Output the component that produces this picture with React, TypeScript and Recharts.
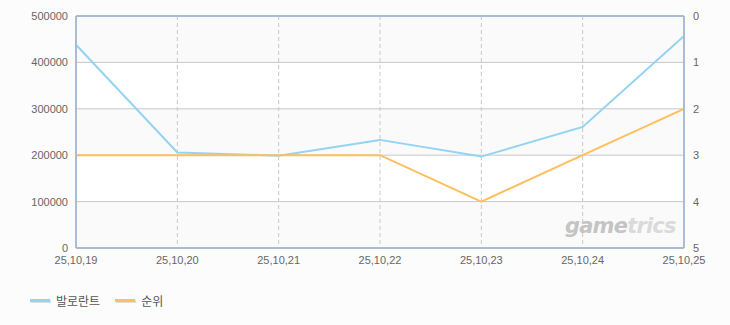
import React from 'react';
import {
    ComposedChart,
    Line,
    XAxis,
    YAxis,
    CartesianGrid,
    ReferenceLine
} from 'recharts';

const dates = ['25,10,19', '25,10,20', '25,10,21', '25,10,22', '25,10,23', '25,10,24', '25,10,25'];
const valorant = [438000, 206000, 199000, 233000, 197000, 261000, 457000];
const rank = [3, 3, 3, 3, 4, 3, 2];
const leftTicks = [0, 100000, 200000, 300000, 400000, 500000];
const rightTicks = [0, 1, 2, 3, 4, 5];

const BLUE = '#94d3f2';
const ORANGE = '#ffbf5e';
const BORDER = '#a9bcd3';
const FONT = '"Liberation Sans", Arial, sans-serif';

const data = dates.map((d, i) => ({ date: d, valorant: valorant[i], rank: rank[i] }));

const tickStyle = { fill: '#666', fontSize: 11, fontFamily: FONT };

export default function App() {
    return (
        <div style={{ position: 'absolute', left: 0, top: 0, width: 730, height: 325, background: '#fcfcfc', fontFamily: FONT }}>
            <ComposedChart width={730} height={325} data={data} margin={{ top: 16, right: 6, left: 6, bottom: 57 }}>
                <CartesianGrid
                    yAxisId="left"
                    vertical={false}
                    stroke="#c8c8c8"
                    horizontalFill={['#fafafa', '#ffffff']}
                />
                <CartesianGrid yAxisId="left" horizontal={false} stroke="#c8c8c8" strokeDasharray="4 3" />
                <XAxis
                    dataKey="date"
                    tick={tickStyle}
                    tickLine={false}
                    axisLine={{ stroke: BORDER, strokeWidth: 2 }}
                    interval={0}
                    height={20}
                    tickMargin={2}
                />
                <YAxis
                    yAxisId="left"
                    domain={[0, 500000]}
                    ticks={leftTicks}
                    tick={tickStyle}
                    tickLine={false}
                    axisLine={{ stroke: BORDER, strokeWidth: 2 }}
                    width={70}
                    tickMargin={2}
                />
                <YAxis
                    yAxisId="right"
                    orientation="right"
                    reversed
                    domain={[0, 5]}
                    ticks={rightTicks}
                    tick={tickStyle}
                    tickLine={false}
                    axisLine={{ stroke: BORDER, strokeWidth: 2 }}
                    width={40}
                    tickMargin={3}
                />
                <ReferenceLine yAxisId="left" y={500000} stroke={BORDER} strokeWidth={2} />
                <Line
                    yAxisId="left"
                    type="linear"
                    dataKey="valorant"
                    stroke={BLUE}
                    strokeWidth={2}
                    dot={false}
                    isAnimationActive={false}
                />
                <Line
                    yAxisId="right"
                    type="linear"
                    dataKey="rank"
                    stroke={ORANGE}
                    strokeWidth={2}
                    dot={false}
                    isAnimationActive={false}
                />
            </ComposedChart>

            {/* watermark */}
            <div style={{ position: 'absolute', left: 565, top: 214, fontSize: 21, fontWeight: 'bold', fontStyle: 'italic', letterSpacing: -0.8, fontFamily: '"DejaVu Sans", sans-serif', color: '#c4c4c4' }}>
                game<span style={{ color: '#dadada' }}>trics</span>
            </div>

            {/* legend */}
            <div style={{ position: 'absolute', left: 30, top: 292, display: 'flex', alignItems: 'center', fontSize: 12, color: '#555', fontFamily: '"Noto Sans CJK KR", sans-serif' }}>
                <span style={{ display: 'inline-block', width: 20, height: 3, background: BLUE, boxShadow: '1px 1px 0 #ddd', marginRight: 6 }} />
                <span>발로란트</span>
                <span style={{ display: 'inline-block', width: 20, height: 3, background: ORANGE, boxShadow: '1px 1px 0 #ddd', marginLeft: 15, marginRight: 6 }} />
                <span>순위</span>
            </div>
        </div>
    );
}
